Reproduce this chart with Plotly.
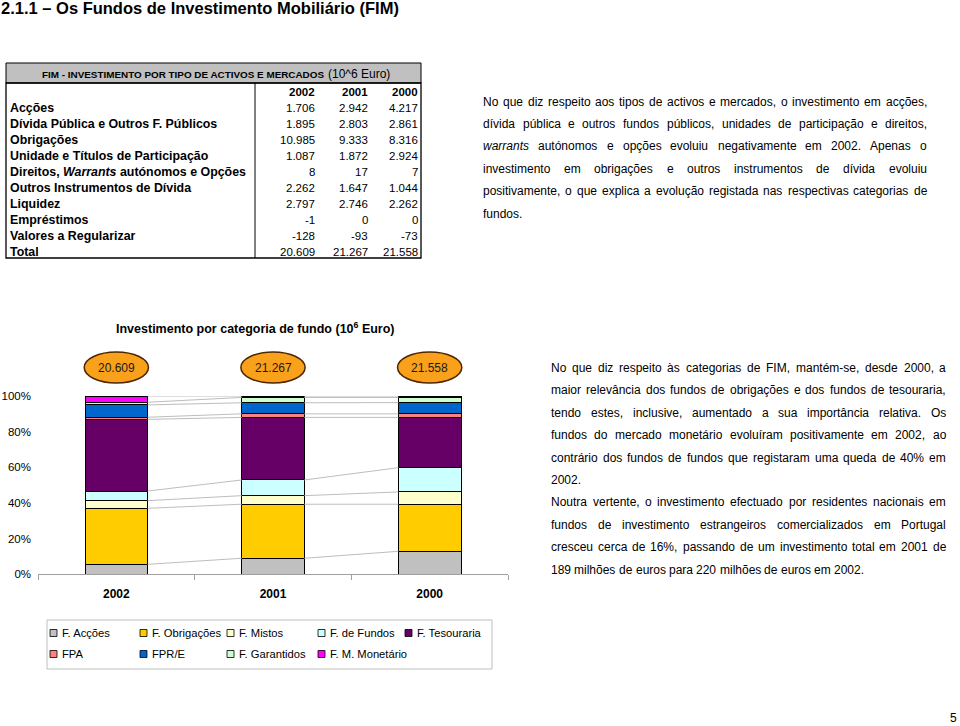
import unicodedata
import plotly.graph_objects as go

# ---------------- data ----------------
years = ["2002", "2001", "2000"]
totals = ["20.609", "21.267", "21.558"]

fund_names = ["F. Acções", "F. Obrigações", "F. Mistos", "F. de Fundos", "F. Tesouraria",
              "FPA", "FPR/E", "F. Garantidos", "F. M. Monetário"]
fund_colors = ["#C0C0C0", "#FFCC00", "#FFFFCC", "#CCFFFF", "#660066",
               "#FF8080", "#0066CC", "#CCFFCC", "#FF00FF"]
share_2002 = [5.6, 31.4, 4.3, 5.4, 40.2, 1.2, 6.9, 1.5, 3.5]
share_2001 = [9.0, 30.3, 4.8, 8.8, 35.1, 2.0, 6.2, 3.0, 0.8]
share_2000 = [12.9, 26.4, 6.9, 13.6, 28.2, 2.0, 6.3, 2.9, 0.8]

table_title = "FIM - INVESTIMENTO POR TIPO DE ACTIVOS E MERCADOS"
table_unit = "(10^6 Euro)"
table_labels = ["Acções", "Dívida Pública e Outros F. Públicos", "Obrigações",
                "Unidade e Títulos de Participação",
                "Direitos, <i>Warrants</i> autónomos e Opções",
                "Outros Instrumentos de Dívida", "Liquidez", "Empréstimos",
                "Valores a Regularizar", "Total"]
table_2002 = [1706, 1895, 10985, 1087, 8, 2262, 2797, -1, -128, 20609]
table_2001 = [2942, 2803, 9333, 1872, 17, 1647, 2746, 0, -93, 21267]
table_2000 = [4217, 2861, 8316, 2924, 7, 1044, 2262, 0, -73, 21558]

page_title = "2.1.1 – Os Fundos de Investimento Mobiliário (FIM)"
chart_title = "Investimento por categoria de fundo (10<sup>6</sup> Euro)"

para1 = [
    "No que diz respeito aos tipos de activos e mercados, o investimento em acções,",
    "dívida pública e outros fundos públicos, unidades de participação e direitos,",
    "_warrants_ autónomos e opções evoluiu negativamente em 2002. Apenas o",
    "investimento em obrigações e outros instrumentos de dívida evoluiu",
    "positivamente, o que explica a evolução registada nas respectivas categorias de",
    "fundos.",
]
para2 = [
    "No que diz respeito às categorias de FIM, mantém-se, desde 2000, a",
    "maior relevância dos fundos de obrigações e dos fundos de tesouraria,",
    "tendo estes, inclusive, aumentado a sua importância relativa. Os",
    "fundos do mercado monetário evoluíram positivamente em 2002, ao",
    "contrário dos fundos de fundos que registaram uma queda de 40% em",
    "2002.",
    "Noutra vertente, o investimento efectuado por residentes nacionais em",
    "fundos de investimento estrangeiros comercializados em Portugal",
    "cresceu cerca de 16%, passando de um investimento total em 2001 de",
    "189 milhões de euros para 220 milhões de euros em 2002.",
]
para2_last = [5, 9]
page_number = "5"

# ---------------- helpers ----------------
W, H = 960, 726
FONT = "Liberation Sans, Arial, sans-serif"


def px(x):
    return x / W


def py(y):
    return 1 - y / H


AW = {' ': 278, '!': 278, '%': 889, '(': 333, ')': 333, ',': 278, '-': 333, '.': 278,
      '/': 278, ':': 278, ';': 278, '–': 556,
      'A': 667, 'B': 667, 'C': 722, 'D': 722, 'E': 667, 'F': 611, 'G': 778, 'H': 722,
      'I': 278, 'J': 500, 'K': 667, 'L': 556, 'M': 833, 'N': 722, 'O': 778, 'P': 667,
      'Q': 778, 'R': 722, 'S': 667, 'T': 611, 'U': 722, 'V': 667, 'W': 944, 'X': 667,
      'Y': 667, 'Z': 611,
      'a': 556, 'b': 556, 'c': 500, 'd': 556, 'e': 556, 'f': 278, 'g': 556, 'h': 556,
      'i': 222, 'j': 222, 'k': 500, 'l': 222, 'm': 833, 'n': 556, 'o': 556, 'p': 556,
      'q': 556, 'r': 333, 's': 500, 't': 278, 'u': 556, 'v': 500, 'w': 722, 'x': 500,
      'y': 500, 'z': 500}
for d in "0123456789":
    AW[d] = 556


def cw(ch):
    if ch in AW:
        return AW[ch]
    if ch in "íìîï":
        return 278
    base = unicodedata.normalize("NFD", ch)[0]
    return AW.get(base, 556)


def tw(s, size):
    return sum(cw(c) for c in s) * size / 1000.0


annotations = []
shapes = []


def text(x, y, s, size=12, anchor="left", color="black", family=FONT):
    annotations.append(dict(x=px(x), y=py(y), xref="paper", yref="paper", text=s,
                            showarrow=False, xanchor=anchor, yanchor="middle",
                            borderpad=0, font=dict(size=size, color=color, family=family)))


def paragraph(lines, x0, x1, y0, dy, last_idx, size=12):
    width = x1 - x0
    for i, line in enumerate(lines):
        words = line.split(" ")
        plain = [w.replace("_", "") for w in words]
        widths = [tw(w, size) for w in plain]
        if i in last_idx or len(words) == 1:
            gap = tw(" ", size)
        else:
            gap = (width - sum(widths)) / (len(words) - 1)
        x = x0
        for w, p, wd in zip(words, plain, widths):
            s = "<i>%s</i>" % p if w.startswith("_") else p
            text(x, y0 + i * dy, s, size=size)
            x += wd + gap


def fmt(v):
    return "{:,}".format(v).replace(",", ".")


# ---------------- chart ----------------
fig = go.Figure()
xs = [0, 1, 2]
shares = [share_2002, share_2001, share_2000]
for k, name in enumerate(fund_names):
    fig.add_trace(go.Bar(x=xs, y=[s[k] for s in shares], name=name, width=0.4,
                         marker=dict(color=fund_colors[k], line=dict(color="black", width=1)),
                         hoverinfo="name+y"))

# series lines connecting segment tops
lx, ly = [], []
for k in range(len(fund_names)):
    cums = [sum(s[:k + 1]) for s in shares]
    for i in range(2):
        lx += [xs[i] + 0.2, xs[i + 1] - 0.2, None]
        ly += [cums[i], cums[i + 1], None]
fig.add_trace(go.Scatter(x=lx, y=ly, mode="lines", line=dict(color="#BDBDBD", width=1),
                         hoverinfo="skip"))

# total ovals
for i, t in enumerate(totals):
    shapes.append(dict(type="circle", xref="x", yref="paper", x0=xs[i] - 0.205, x1=xs[i] + 0.205,
                       y0=py(383), y1=py(352), fillcolor="#F9A11B",
                       line=dict(color="#4D2600", width=1.5), layer="above"))
    annotations.append(dict(x=xs[i], y=py(367.5), xref="x", yref="paper", text=t,
                            showarrow=False, xanchor="center", yanchor="middle",
                            font=dict(size=12, family=FONT, color="#1a1a1a")))

text(255, 328, "<b>%s</b>" % chart_title, size=12.5, anchor="center")

# legend
leg_cols = [50, 140, 227, 318, 405]
leg_rows = [633, 654]
shapes.append(dict(type="rect", xref="paper", yref="paper", x0=px(47), x1=px(492),
                   y0=py(669), y1=py(620), line=dict(color="#BDBDBD", width=1)))
for k, name in enumerate(fund_names):
    r, c = divmod(k, 5)
    x, y = leg_cols[c], leg_rows[r]
    shapes.append(dict(type="rect", xref="paper", yref="paper", x0=px(x), x1=px(x + 7),
                       y0=py(y + 3.5), y1=py(y - 3.5), fillcolor=fund_colors[k],
                       line=dict(color="black", width=0.8)))
    text(x + 11, y, name, size=11.2)

# ---------------- table ----------------
shapes.append(dict(type="rect", xref="paper", yref="paper", x0=px(6), x1=px(421),
                   y0=py(83), y1=py(63), fillcolor="#C0C0C0", line=dict(color="black", width=1)))
shapes.append(dict(type="rect", xref="paper", yref="paper", x0=px(6), x1=px(421),
                   y0=py(258), y1=py(83), line=dict(color="black", width=1.3)))
shapes.append(dict(type="line", xref="paper", yref="paper", x0=px(255), x1=px(255),
                   y0=py(258), y1=py(83), line=dict(color="black", width=1)))
text(183, 74, "<b>%s</b>" % table_title, size=9.9, anchor="center")
text(327, 74, table_unit, size=12)
col_x = [316, 369, 419]
for j, yr in enumerate(years):
    text(col_x[j], 92.3, "<b>%s</b>" % yr, size=11.5, anchor="right")
for i, lab in enumerate(table_labels):
    y = 108.2 + 16.0 * i
    text(9, y, "<b>%s</b>" % lab, size=12.4)
    for j, col in enumerate([table_2002, table_2001, table_2000]):
        text(col_x[j], y, fmt(col[i]), size=11.5, anchor="right")

# ---------------- page text ----------------
text(0, 8.5, "<b>%s</b>" % page_title, size=16.5)
paragraph(para1, 482, 926, 101.5, 22.4, [5])
paragraph(para2, 550, 945, 368, 22.4, para2_last)
text(958, 718, page_number, size=12, anchor="right")

fig.update_layout(
    width=W, height=H, margin=dict(l=0, r=0, t=0, b=0, autoexpand=False),
    paper_bgcolor="white", plot_bgcolor="white", showlegend=False,
    barmode="stack", font=dict(family=FONT, color="black"),
    xaxis=dict(domain=[px(38), px(508)], range=[-0.5, 2.5], tickvals=xs,
               ticktext=["<b>%s</b>" % y for y in years], automargin=False,
               showline=True, linecolor="#A0A0A0", linewidth=1, ticks="", showgrid=False,
               zeroline=False, tickfont=dict(size=12), fixedrange=True,
               ticklabelstandoff=8,
               minor=dict(tickvals=[-0.5, 0.5, 1.5, 2.5], ticks="outside", ticklen=5,
                          tickcolor="#A0A0A0", showgrid=False)),
    yaxis=dict(domain=[py(574.3), py(396)], range=[0, 100], tickvals=[0, 20, 40, 60, 80, 100],
               ticktext=["0%", "20%", "40%", "60%", "80%", "100%"], showline=False,
               showgrid=False, zeroline=False, ticks="", tickfont=dict(size=11.5),
               ticklabelstandoff=6, automargin=False, fixedrange=True),
    annotations=annotations, shapes=shapes,
)
fig.write_html("out.html")
